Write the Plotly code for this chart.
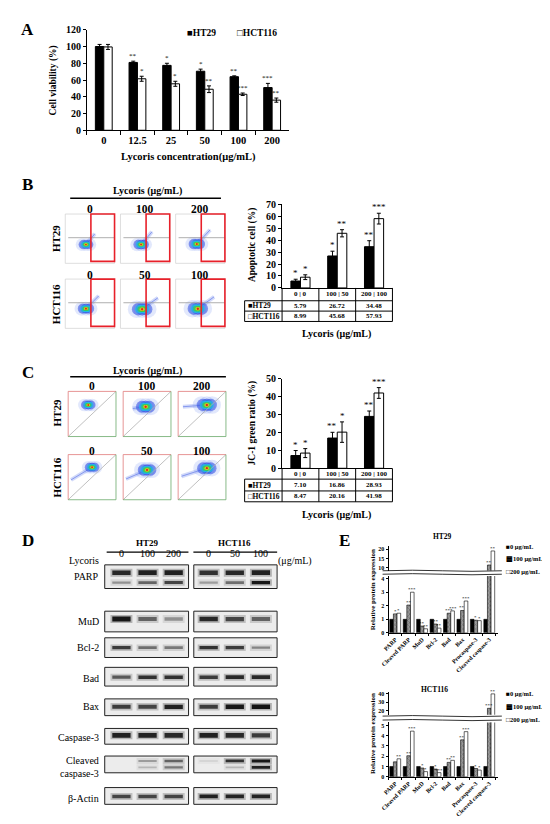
import plotly.graph_objects as go

W, H = 550, 824
SERIF = "Liberation Serif"

# ---------------- data ----------------
# A  cell viability (%)
conc = ["0", "12.5", "25", "50", "100", "200"]
via_ht29 = [100, 81, 77.5, 70.5, 64, 51]
via_ht29_err = [2.5, 1.5, 2.5, 2.5, 1, 5]
via_ht29_sig = ["", "**", "*", "*", "**", "***"]
via_hct116 = [99.5, 61.5, 55.5, 49, 43, 36]
via_hct116_err = [3, 3, 3, 4, 1.5, 2.5]
via_hct116_sig = ["", "*", "*", "**", "***", "**"]

# B  apoptotic cells (%)
dose_pairs = ["0 | 0", "100 | 50", "200 | 100"]
apo_ht29 = [5.79, 26.72, 34.48]
apo_ht29_err = [1.5, 4, 5]
apo_ht29_sig = ["*", "*", "**"]
apo_hct116 = [8.99, 45.68, 57.93]
apo_hct116_err = [2, 3, 4.5]
apo_hct116_sig = ["*", "**", "***"]

# C  JC-1 green ratio (%)
jc1_ht29 = [7.10, 16.86, 28.93]
jc1_ht29_err = [2.8, 3.2, 3]
jc1_ht29_sig = ["*", "**", "**"]
jc1_hct116 = [8.47, 20.16, 41.98]
jc1_hct116_err = [2.5, 5.7, 3]
jc1_hct116_sig = ["*", "*", "***"]

doses_ht29 = ["0", "100", "200"]
doses_hct116 = ["0", "50", "100"]

# flow plots, order: HT29 0/100/200, HCT116 0/50/100 (fractions of each plot)
annexin_x = [0.42, 0.42, 0.43, 0.42, 0.44, 0.45]
annexin_y = [0.38, 0.38, 0.39, 0.40, 0.39, 0.40]
annexin_tail_x = [0.60, 0.64, 0.70, 0.68, 0.76, 0.78]
annexin_tail_y = [0.60, 0.64, 0.68, 0.66, 0.62, 0.64]
annexin_size = [0.9, 0.95, 1.0, 1.0, 1.25, 1.25]

jc1_pop_x = [0.42, 0.47, 0.60, 0.50, 0.50, 0.60]
jc1_pop_y = [0.70, 0.66, 0.70, 0.72, 0.66, 0.70]
jc1_tail_x = [0.32, 0.20, 0.10, 0.06, 0.06, 0.07]
jc1_tail_y = [0.68, 0.62, 0.66, 0.44, 0.46, 0.52]
jc1_size = [0.9, 1.2, 1.25, 0.9, 1.15, 1.2]

# D  western blot band darkness, lanes HT29 0/100/200, HCT116 0/50/100
blot_labels = ["PARP", "MuD", "Bcl-2", "Bad", "Bax", "Caspase-3", "Cleaved<br>caspase-3", "β-Actin"]
parp_full = [0.85, 0.9, 0.9, 0.8, 0.85, 0.9]
parp_cleaved = [0.35, 0.55, 0.7, 0.3, 0.5, 0.95]
mud = [0.95, 0.55, 0.35, 0.85, 0.7, 0.55]
bcl2 = [0.75, 0.5, 0.45, 0.8, 0.75, 0.4]
bad = [0.6, 0.8, 0.8, 0.75, 0.85, 0.85]
bax = [0.75, 0.7, 0.9, 0.75, 0.95, 0.98]
casp3 = [0.9, 0.88, 0.85, 0.9, 0.85, 0.75]
cl_casp3_upper = [0.0, 0.3, 0.55, 0.1, 0.8, 0.95]
cl_casp3_lower = [0.0, 0.2, 0.45, 0.0, 0.2, 0.9]
actin = [0.7, 0.7, 0.7, 0.9, 0.88, 0.88]

# E  relative protein expression
proteins = ["PARP", "Cleaved PARP", "MuD", "Bcl-2", "Bad", "Bax", "Procaspase-3", "Cleaved caspase-3"]
e_ht29_0 = [1, 1, 1, 1, 1, 1, 1, 1]
e_ht29_100 = [1.4, 2.05, 0.5, 0.65, 1.45, 1.65, 0.93, 11.5]
e_ht29_200 = [1.45, 3.0, 0.3, 0.35, 1.62, 2.35, 0.9, 19.0]
e_ht29_sig100 = ["*", "**", "**", "**", "***", "**", "*", "**"]
e_ht29_sig200 = ["*", "***", "**", "**", "***", "***", "*", "**"]
e_hct116_0 = [1, 1, 1, 1, 1, 1, 1, 1]
e_hct116_100 = [1.45, 2.05, 0.85, 0.75, 1.4, 3.6, 0.8, 23.0]
e_hct116_200 = [1.75, 4.45, 0.5, 0.4, 1.6, 4.4, 0.65, 40.0]
e_hct116_sig100 = ["", "**", "*", "*", "**", "**", "*", "***"]
e_hct116_sig200 = ["**", "***", "*", "***", "**", "***", "*", "**"]


# ---------------- helpers ----------------
def px(x):
    return x / W


def py(y):
    return 1 - y / H


fig = go.Figure()
ann = []
shapes = []


def label(x, y, s, size=10, bold=True, xanchor="center", angle=0, color="black"):
    ann.append(dict(x=px(x), y=py(y), xref="paper", yref="paper", text=s, showarrow=False,
                    xanchor=xanchor, yanchor="middle", textangle=angle,
                    font=dict(family=SERIF, size=size, color=color, weight="bold" if bold else "normal")))


def hline(x0, x1, y, w=1, color="black"):
    shapes.append(dict(type="line", xref="paper", yref="paper", x0=px(x0), x1=px(x1), y0=py(y), y1=py(y),
                       line=dict(color=color, width=w)))


def vline(x, y0, y1, w=1, color="black"):
    shapes.append(dict(type="line", xref="paper", yref="paper", x0=px(x), x1=px(x), y0=py(y0), y1=py(y1),
                       line=dict(color=color, width=w)))


def axis(**kw):
    d = dict(showline=True, linecolor="black", linewidth=1, ticks="outside", ticklen=3, tickcolor="black",
             showgrid=False, zeroline=False,
             tickfont=dict(family=SERIF, size=10, color="black", weight="bold"))
    d.update(kw)
    return d


def bar_pair(xa, ya, cats, v1, e1, s1, v2, e2, s2, width, star_size):
    for vals, errs, sig, col, off in ((v1, e1, s1, "black", -width), (v2, e2, s2, "white", 0)):
        fig.add_trace(go.Bar(x=cats, y=vals, xaxis=xa, yaxis=ya, width=width, offset=off,
                             marker=dict(color=col, line=dict(color="black", width=1)),
                             error_y=dict(type="data", array=errs, color="black", thickness=1, width=2),
                             showlegend=False, hoverinfo="skip"))
        for i, (v, e, s) in enumerate(zip(vals, errs, sig)):
            if s:
                ann.append(dict(x=i + off + width / 2, y=v + e, xref=xa, yref=ya, text=s, showarrow=False,
                                yanchor="bottom", yshift=-1,
                                font=dict(family=SERIF, size=star_size, color="black")))


# ---------------- A ----------------
label(12, 16, "A", 17)
bar_pair("x", "y", conc, via_ht29, via_ht29_err, via_ht29_sig,
         via_hct116, via_hct116_err, via_hct116_sig, 0.25, 7)
label(38, 67, "Cell viability (%)", 9.5, angle=-90)
label(175, 145, "Lycoris concentration(μg/mL)", 10.5)
label(172, 19, "■HT29", 9.5, xanchor="left")
label(222, 19, "□HCT116", 9.5, xanchor="left")

# ---------------- B / C bar charts with tables ----------------
def table(xa, y_axis, y1, y2, y3, v1, v2):
    x0, x1, xl = 270, 382, 232
    for y in (y1, y2, y3):
        hline(xl, x1, y)
    vline(xl, y1, y3)
    for k in range(4):
        vline(x0 + k * (x1 - x0) / 3, y_axis, y3)
    for i, cat in enumerate(dose_pairs):
        for yy, s in (((y_axis + y1) / 2, cat), ((y1 + y2) / 2, f"{v1[i]:.2f}"), ((y2 + y3) / 2, f"{v2[i]:.2f}")):
            ann.append(dict(x=i, y=py(yy), xref=xa, yref="paper", text=s, showarrow=False,
                            font=dict(family=SERIF, size=7, color="black", weight="bold")))
    label(xl + 1.5, (y1 + y2) / 2, "■HT29", 7.5, xanchor="left")
    label(xl + 1.5, (y2 + y3) / 2, "□HCT116", 7.5, xanchor="left")


label(12, 173, "B", 17)
bar_pair("x2", "y2", dose_pairs, apo_ht29, apo_ht29_err, apo_ht29_sig,
         apo_hct116, apo_hct116_err, apo_hct116_sig, 0.26, 9)
table("x2", 278, 291, 301.5, 312, apo_ht29, apo_hct116)
label(240, 235, "Apoptotic cell (%)", 9.5, angle=-90)
label(325, 325, "Lycoris (μg/mL)", 10)

label(12, 364, "C", 17)
bar_pair("x3", "y3", dose_pairs, jc1_ht29, jc1_ht29_err, jc1_ht29_sig,
         jc1_hct116, jc1_hct116_err, jc1_hct116_sig, 0.26, 9)
table("x3", 461, 472, 484, 495, jc1_ht29, jc1_hct116)
label(240, 415, "JC-1 green ratio (%)", 9.5, angle=-90)
label(325, 508, "Lycoris (μg/mL)", 10)

# ---------------- flow cytometry panels ----------------
BLOB = [  # marker size, colour, horizontal spread
    (14, "rgba(120,145,240,0.3)", 0.09),
    (10, "rgba(40,70,225,0.75)", 0.065),
    (7, "#1fc0e8", 0.045),
    (4.5, "#3ccf3c", 0.03),
    (2.8, "#f0c020", 0.015),
    (1.6, "#e02020", 0.0),
]


def flow_panel(xa, ya, col_off, row_off, cx, cy, tx, ty, sz):
    tail_x, tail_y = [], []
    layer_pts = [([], [], []) for _ in BLOB]
    for k in range(6):
        ox, oy = col_off[k % 3], row_off[k // 3]
        x, y = ox + cx[k], oy + cy[k]
        tail_x += [x, ox + tx[k], None]
        tail_y += [y, oy + ty[k], None]
        for (size, _, spread), pts in zip(BLOB, layer_pts):
            for d in (-1, 0, 1):
                pts[0].append(x + d * spread * sz[k])
                pts[1].append(y)
                pts[2].append(size * sz[k])
    fig.add_trace(go.Scatter(x=tail_x, y=tail_y, xaxis=xa, yaxis=ya, mode="lines",
                             line=dict(color="rgba(90,120,235,0.28)", width=4),
                             showlegend=False, hoverinfo="skip"))
    fig.add_trace(go.Scatter(x=tail_x, y=tail_y, xaxis=xa, yaxis=ya, mode="lines",
                             line=dict(color="rgba(40,70,225,0.45)", width=1),
                             showlegend=False, hoverinfo="skip"))
    for (size, colr, _), pts in zip(BLOB, layer_pts):
        fig.add_trace(go.Scatter(x=pts[0], y=pts[1], xaxis=xa, yaxis=ya, mode="markers",
                                 marker=dict(size=pts[2], color=colr, line=dict(width=0)),
                                 showlegend=False, hoverinfo="skip"))


def dshape(xa, ya, **kw):
    d = dict(xref=xa, yref=ya)
    d.update(kw)
    shapes.append(d)


# B flow: 50 px per unit both ways
b_cols, b_rows = [0, 1.12, 2.24], [1.32, 0]
for r in b_rows:
    for c in b_cols:
        dshape("x6", "y8", type="rect", x0=c, x1=c + 1, y0=r, y1=r + 1, line=dict(color="#c8c8c8", width=0.6))
        dshape("x6", "y8", type="line", x0=c + 0.06, x1=c + 1, y0=r + 0.52, y1=r + 0.52,
               line=dict(color="#9a9a9a", width=0.8))
        dshape("x6", "y8", type="rect", x0=c + 0.52, x1=c + 1, y0=r + 0.04, y1=r + 1,
               line=dict(color="#e8202a", width=1.6), layer="above")
flow_panel("x6", "y8", b_cols, b_rows, annexin_x, annexin_y, annexin_tail_x, annexin_tail_y, annexin_size)
label(133, 180, "Lycoris (μg/mL)", 10)
hline(55, 208, 187, 1.5)
for i, c in enumerate(b_cols):
    label(75 + c * 50, 198, doses_ht29[i], 11.5)
    label(75 + c * 50, 265, doses_hct116[i], 11.5)
label(40, 228, "HT29", 11, angle=-90)
label(40, 294, "HCT116", 11, angle=-90)

# C flow: 48.5 px per unit across, 45.8 px per unit down
c_cols, c_rows = [0, 1.15, 2.3], [1.4, 0]
for r in c_rows:
    for c in c_cols:
        dshape("x7", "y9", type="line", x0=c, x1=c + 1, y0=r, y1=r + 1, line=dict(color="#b0b0b0", width=0.8))
        dshape("x7", "y9", type="line", x0=c, x1=c + 1, y0=r + 1, y1=r + 1, line=dict(color="#e07a7a", width=0.8))
        dshape("x7", "y9", type="line", x0=c, x1=c, y0=r, y1=r + 1, line=dict(color="#e07a7a", width=0.8))
        dshape("x7", "y9", type="line", x0=c, x1=c + 1, y0=r, y1=r, line=dict(color="#6aaa6a", width=0.8))
        dshape("x7", "y9", type="line", x0=c + 1, x1=c + 1, y0=r, y1=r + 1, line=dict(color="#6aaa6a", width=0.8))
flow_panel("x7", "y9", c_cols, c_rows, jc1_pop_x, jc1_pop_y, jc1_tail_x, jc1_tail_y, jc1_size)
label(133, 362, "Lycoris (μg/mL)", 10)
hline(55, 213, 368, 1.5)
for i, c in enumerate(c_cols):
    label(77 + c * 48.5, 378, doses_ht29[i], 11.5)
    label(77 + c * 48.5, 443, doses_hct116[i], 11.5)
label(42, 405, "HT29", 11, angle=-90)
label(42, 470, "HCT116", 11, angle=-90)

# ---------------- D western blots ----------------
label(12, 534, "D", 17)
lanes = [0, 1, 2, 3.34, 4.34, 5.34]
blot_boxes = [(559, 583), (606, 627), (633, 653), (663, 682), (695, 712), (725, 741), (753, 770), (785, 802)]
blot_label_y = [571, 616, 643, 674, 703, 734, 764, 796]
for (t, b), name, ly in zip(blot_boxes, blot_labels, blot_label_y):
    for x0, x1 in ((-0.64, 2.57), (2.77, 5.96)):
        dshape("x8", "y10", type="rect", x0=x0, x1=x1, y0=t, y1=b, fillcolor="#ececec",
               line=dict(color="#222", width=1), layer="below")
    ann.append(dict(x=px(86), y=py(ly), xref="paper", yref="paper", text=name, showarrow=False,
                    xanchor="right", yanchor="middle", align="right",
                    font=dict(family=SERIF, size=10, color="black")))

bands = [(parp_full, 567, 5), (parp_cleaved, 577, 3.5), (mud, 614, 5), (bcl2, 643, 3.5),
         (bad, 673, 4), (bax, 703, 4.5), (casp3, 732, 5), (cl_casp3_upper, 758, 3),
         (cl_casp3_lower, 764.5, 3), (actin, 794, 4)]
for vals, yb, th in bands:
    for lx, v in zip(lanes, vals):
        if v <= 0:
            continue
        fig.add_trace(go.Scatter(x=[lx - 0.42, lx + 0.42], y=[yb, yb], xaxis="x8", yaxis="y10", mode="lines",
                                 line=dict(color=f"rgba(30,30,30,{v * 0.3:.2f})", width=th + 3),
                                 showlegend=False, hoverinfo="skip"))
        fig.add_trace(go.Scatter(x=[lx - 0.35, lx + 0.35], y=[yb, yb], xaxis="x8", yaxis="y10", mode="lines",
                                 line=dict(color=f"rgba(15,15,15,{v:.2f})", width=th * (0.5 + 0.5 * v)),
                                 showlegend=False, hoverinfo="skip"))

label(133, 537, "HT29", 9)
hline(92, 175, 546, 1.2)
label(222, 537, "HCT116", 9)
hline(180, 265, 546, 1.2)
label(69, 555, "Lycoris", 10, bold=False)
label(283, 555, "(μg/mL)", 10, bold=False)
for lx, d in zip(lanes, doses_ht29 + doses_hct116):
    ann.append(dict(x=lx, y=py(555), xref="x8", yref="paper", text=d, showarrow=False,
                    font=dict(family=SERIF, size=10, color="black")))

# ---------------- E protein expression ----------------
label(333, 534, "E", 17)
E_OFF = [-0.405, -0.135, 0.135]


def protein_chart(xa, ylo, yhi, lo_top, v0, v100, v200, s100, s200):
    series = [(v0, "black", None, None), (v100, "#9a9a9a", "x", s100), (v200, "white", None, s200)]
    for (vals, colr, pat, sig), off in zip(series, E_OFF):
        mk = dict(color=colr, line=dict(color="black", width=0.6))
        if pat:
            mk["pattern"] = dict(shape=pat, fgcolor="#333", size=3, solidity=0.35)
        for ya in (ylo, yhi):
            fig.add_trace(go.Bar(x=proteins, y=vals, xaxis=xa, yaxis=ya, width=0.27, offset=off,
                                 marker=mk, showlegend=False, hoverinfo="skip"))
        if sig:
            for i, (v, s) in enumerate(zip(vals, sig)):
                if s:
                    ann.append(dict(x=i + off + 0.135, y=v, xref=xa, yref=yhi if v > lo_top else ylo,
                                    text=s, showarrow=False, yanchor="bottom", yshift=-2,
                                    font=dict(family=SERIF, size=5, color="black")))


def wave(x0, x1, y, amp=2.0):
    a, b = (x0 + (x1 - x0) / 3), (x0 + 2 * (x1 - x0) / 3)
    return (f"M{px(x0)},{py(y)} C{px(a)},{py(y - amp)} {px(b)},{py(y + amp)} {px(x1)},{py(y)}")


protein_chart("x4", "y4", "y5", 4.2, e_ht29_0, e_ht29_100, e_ht29_200, e_ht29_sig100, e_ht29_sig200)
protein_chart("x5", "y6", "y7", 5.3, e_hct116_0, e_hct116_100, e_hct116_200, e_hct116_sig100, e_hct116_sig200)
for yc in (565, 568.5, 712.5, 716.5):
    shapes.append(dict(type="path", xref="paper", yref="paper", path=wave(372, 493, yc),
                       line=dict(color="black", width=0.8)))

label(433, 530, "HT29", 7.5)
label(425, 685, "HCT116", 7.5)
label(363, 584, "Relative protein expression", 7, angle=-90)
label(363, 730, "Relative protein expression", 7, angle=-90)
for y0 in (540, 690):
    label(495, y0, "■0 μg/mL", 6.5, xanchor="left")
    label(495, y0 + 13, "▩100 μg/mL", 6.5, xanchor="left")
    label(495, y0 + 26, "□200 μg/mL", 6.5, xanchor="left")

# ---------------- layout ----------------
small = dict(family=SERIF, size=6, color="black", weight="bold")
hidden = dict(visible=False, showgrid=False, zeroline=False)

fig.update_layout(
    width=W, height=H, margin=dict(l=0, r=0, t=0, b=0),
    paper_bgcolor="white", plot_bgcolor="white", showlegend=False, barmode="group",
    font=dict(family=SERIF, color="black"),
    xaxis=axis(domain=[px(72), px(277)], anchor="y", type="category", tickson="boundaries", ticklen=4,
               tickfont=dict(family=SERIF, size=10.5, color="black", weight="bold")),
    yaxis=axis(domain=[py(118), py(16)], anchor="x", range=[0, 120], dtick=20),
    xaxis2=axis(domain=[px(270), px(382)], anchor="y2", type="category", showticklabels=False, ticks=""),
    yaxis2=axis(domain=[py(278), py(193)], anchor="x2", range=[0, 70], dtick=10),
    xaxis3=axis(domain=[px(270), px(382)], anchor="y3", type="category", showticklabels=False, ticks=""),
    yaxis3=axis(domain=[py(461), py(370)], anchor="x3", range=[0, 50], dtick=10),
    xaxis4=axis(domain=[px(378), px(489)], anchor="y4", type="category", tickson="boundaries", ticklen=2,
                tickangle=-45, tickfont=small),
    yaxis4=axis(domain=[py(628), py(570.25)], anchor="x4", range=[0, 4.2], tickvals=[0, 1, 2, 3, 4],
                ticklen=2, tickfont=small),
    yaxis5=axis(domain=[py(564.85), py(540.15)], anchor="x4", range=[8.5, 21.5], tickvals=[10, 15, 20],
                ticklen=2, tickfont=small),
    xaxis5=axis(domain=[px(378), px(489)], anchor="y6", type="category", tickson="boundaries", ticklen=2,
                tickangle=-45, tickfont=small),
    yaxis6=axis(domain=[py(774), py(718.9)], anchor="x5", range=[0, 5.3], tickvals=[0, 1, 2, 3, 4, 5],
                ticklen=2, tickfont=small),
    yaxis7=axis(domain=[py(711.05), py(688.2)], anchor="x5", range=[15.5, 42], tickvals=[20, 30, 40],
                ticklen=2, tickfont=small),
    xaxis6=dict(hidden, domain=[px(48.5), px(213.5)], anchor="y8", range=[-0.03, 3.27]),
    yaxis8=dict(hidden, domain=[py(320.5), py(201.5)], anchor="x6", range=[-0.03, 2.35]),
    xaxis7=dict(hidden, domain=[px(51.5), px(214.5)], anchor="y9", range=[-0.03, 3.33]),
    yaxis9=dict(hidden, domain=[py(494.3), py(381.6)], anchor="x7", range=[-0.03, 2.43]),
    xaxis8=dict(hidden, domain=[px(107 - 0.7 * 26.5), px(107 + 6.02 * 26.5)], anchor="y10", range=[-0.7, 6.02]),
    yaxis10=dict(hidden, domain=[py(806), py(551)], anchor="x8", range=[806, 551]),
    annotations=ann,
    shapes=shapes,
)

fig.write_html("out.html")
